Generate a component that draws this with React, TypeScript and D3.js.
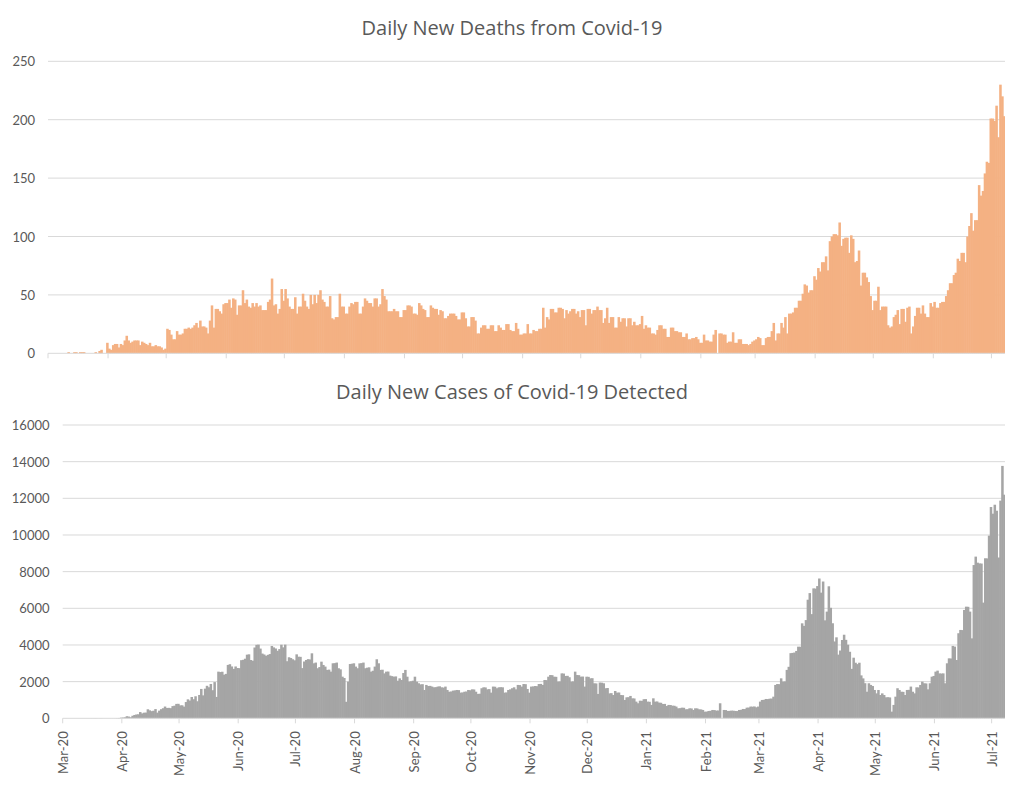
import React from "react";
import * as d3 from "d3";

// Day 0 of both series
const START_DATE = new Date(2020, 2, 7);

// Daily new deaths (one value per day)
const deathsPerDay: number[] = [
  0, 0, 0, 0, 0, 0, 0, 0, 0, 0,
  1, 0, 0, 1, 1, 0, 1, 1, 1, 0,
  0, 0, 0, 0, 1, 0, 2, 3, 0, 0,
  9, 4, 3, 7, 8, 8, 5, 8, 7, 11,
  15, 11, 9, 10, 11, 11, 11, 7, 10, 9,
  8, 7, 9, 6, 6, 7, 6, 6, 5, 3,
  4, 21, 20, 16, 12, 12, 19, 16, 16, 17,
  21, 21, 22, 21, 22, 24, 26, 22, 28, 23,
  23, 22, 17, 28, 41, 22, 38, 38, 36, 34,
  42, 43, 43, 46, 39, 47, 46, 33, 41, 41,
  54, 43, 46, 40, 39, 43, 40, 43, 40, 41,
  37, 37, 37, 44, 46, 64, 41, 42, 34, 38,
  55, 45, 55, 47, 40, 38, 38, 48, 34, 40,
  40, 51, 45, 40, 38, 50, 42, 50, 43, 50,
  54, 46, 44, 40, 40, 49, 30, 29, 31, 31,
  51, 40, 40, 34, 34, 40, 43, 42, 44, 44,
  34, 34, 40, 47, 45, 43, 43, 40, 47, 47,
  40, 42, 55, 49, 46, 36, 36, 36, 38, 36,
  36, 31, 31, 37, 37, 41, 41, 40, 34, 34,
  33, 43, 41, 38, 37, 31, 31, 41, 39, 38,
  38, 33, 37, 36, 30, 30, 32, 34, 34, 34,
  32, 29, 29, 35, 35, 30, 23, 23, 31, 31,
  28, 17, 17, 22, 24, 24, 21, 21, 24, 24,
  19, 19, 24, 22, 20, 20, 25, 25, 20, 19,
  19, 26, 21, 16, 16, 17, 17, 25, 17, 17,
  20, 19, 19, 21, 21, 39, 22, 31, 29, 38,
  38, 35, 35, 39, 39, 38, 30, 37, 34, 36,
  38, 38, 34, 36, 31, 37, 37, 24, 38, 38,
  34, 37, 37, 40, 37, 37, 26, 30, 39, 26,
  31, 31, 22, 22, 31, 27, 30, 30, 23, 30,
  30, 24, 27, 24, 24, 25, 32, 21, 24, 22,
  22, 17, 17, 16, 20, 24, 24, 21, 21, 14,
  14, 22, 22, 19, 19, 18, 18, 14, 14, 17,
  12, 12, 13, 13, 14, 12, 9, 9, 16, 11,
  11, 10, 10, 16, 20, 0, 17, 17, 16, 16,
  9, 10, 10, 18, 9, 9, 12, 12, 8, 8,
  8, 7, 8, 10, 11, 12, 14, 13, 7, 7,
  13, 14, 14, 19, 26, 11, 17, 17, 26, 22,
  31, 17, 34, 34, 35, 39, 39, 45, 45, 51,
  59, 58, 52, 54, 54, 66, 63, 73, 70, 78,
  78, 83, 71, 96, 100, 102, 102, 101, 112, 92,
  98, 99, 99, 86, 101, 98, 78, 79, 88, 58,
  69, 69, 65, 61, 49, 37, 45, 45, 57, 37,
  40, 40, 40, 24, 22, 23, 31, 33, 37, 25,
  38, 38, 27, 39, 40, 17, 23, 32, 39, 39,
  34, 41, 34, 31, 31, 43, 40, 44, 39, 39,
  43, 44, 44, 49, 54, 60, 60, 67, 69, 81,
  79, 86, 86, 78, 100, 109, 120, 105, 114, 114,
  144, 135, 139, 154, 164, 163, 201, 201, 199, 212,
  185, 230, 220, 203,
];

// Daily new cases (one value per day)
const casesPerDay: number[] = [
  0, 3, 0, 0, 0, 0, 0, 2, 0, 3,
  2, 4, 3, 3, 4, 3, 6, 6, 0, 5,
  4, 0, 0, 1, 2, 2, 2, 5, 9, 18,
  35, 41, 54, 112, 94, 58, 139, 182, 209, 219,
  341, 266, 306, 312, 492, 434, 390, 414, 503, 309,
  418, 497, 549, 641, 564, 571, 552, 665, 688, 786,
  790, 706, 709, 636, 887, 1034, 969, 1162, 1041, 1202,
  930, 1273, 1602, 1251, 1617, 1773, 1694, 1873, 1532, 1975,
  1166, 2545, 2523, 2540, 2381, 2423, 2911, 2950, 2828, 2695,
  2828, 2743, 2735, 3171, 3190, 3250, 3471, 3490, 3180, 3141,
  3862, 4008, 4019, 3803, 3531, 3480, 3412, 3462, 3504, 3946,
  3868, 3809, 3682, 3775, 4014, 3870, 4019, 3114, 3330, 3288,
  3220, 3163, 3489, 3360, 3353, 2738, 3099, 3180, 3226, 3210,
  3545, 3000, 3040, 2730, 2795, 3090, 2910, 2820, 2640, 2655,
  2545, 3000, 3009, 3040, 2730, 2670, 2272, 2200, 900, 2000,
  2960, 2977, 3000, 2820, 2730, 2996, 3010, 3040, 2730, 2760,
  2780, 2545, 2595, 2820, 3220, 3000, 2640, 2650, 2450, 2545,
  2550, 2330, 2300, 2270, 2285, 2050, 2180, 2090, 2470, 2640,
  2270, 2000, 2020, 2050, 2270, 2000, 1910, 1850, 1862, 1545,
  1820, 1760, 1770, 1730, 1690, 1700, 1730, 1745, 1690, 1676,
  1730, 1545, 1450, 1462, 1510, 1522, 1545, 1538, 1400, 1412,
  1450, 1462, 1545, 1530, 1580, 1572, 1450, 1330, 1341, 1640,
  1690, 1684, 1580, 1592, 1400, 1730, 1722, 1640, 1690, 1698,
  1690, 1400, 1412, 1545, 1580, 1640, 1690, 1580, 1820, 1812,
  1730, 1870, 1862, 1600, 1400, 1730, 1738, 1760, 1752, 1870,
  1877, 1820, 2090, 2082, 2270, 2360, 2352, 2270, 2262, 2000,
  2010, 2450, 2441, 2310, 2318, 2240, 2000, 2012, 2545, 2360,
  2352, 2270, 2278, 1730, 2270, 2262, 2180, 2188, 1910, 1902,
  1330, 1950, 1942, 1910, 1640, 1652, 1360, 1372, 1270, 1490,
  1400, 1408, 1270, 1262, 1000, 1145, 1152, 1220, 1090, 1082,
  910, 820, 960, 952, 1040, 1048, 910, 902, 730, 1090,
  910, 918, 855, 848, 780, 786, 670, 730, 724, 690,
  684, 640, 545, 552, 580, 574, 490, 498, 545, 538,
  455, 545, 538, 490, 484, 455, 360, 366, 400, 408,
  455, 448, 420, 426, 820, 0, 455, 448, 400, 406,
  420, 414, 400, 394, 455, 462, 510, 504, 580, 586,
  640, 634, 646, 600, 640, 910, 1000, 1008, 1055, 1048,
  1070, 1078, 1180, 1820, 1870, 1862, 2180, 2000, 2010, 2640,
  2809, 3554, 3567, 3587, 3674, 3908, 3902, 5181, 5042, 5358,
  6469, 6830, 5683, 7087, 7075, 7213, 7626, 6854, 7462, 5343,
  5819, 7201, 6028, 5185, 4192, 4417, 3473, 3698, 4271, 4559,
  4280, 4014, 3629, 2697, 3306, 3031, 2955, 3031, 2341, 2177,
  1914, 1450, 1910, 1820, 1760, 1545, 1360, 1545, 1270, 1360,
  1270, 1145, 1152, 1138, 363, 730, 1180, 1640, 1545, 1450,
  1442, 1270, 1545, 1552, 1730, 1450, 1360, 1690, 1684, 1820,
  2000, 1910, 1902, 1580, 1910, 2270, 2310, 2545, 2600, 2450,
  2442, 2450, 1910, 3000, 3270, 3262, 3950, 3910, 3180, 4640,
  4820, 4812, 5910, 6090, 6082, 5820, 4360, 8360, 8820, 8490,
  8450, 8442, 6310, 8730, 8722, 9964, 11525, 11162, 11651, 11324,
  8772, 11874, 13768, 12198,
];

const deathTickValues = [0, 50, 100, 150, 200, 250];
const caseTickValues = [0, 2000, 4000, 6000, 8000, 10000, 12000, 14000, 16000];
const MONTHS_SHOWN = 17;
const deathsTitle = "Daily New Deaths from Covid-19";
const casesTitle = "Daily New Cases of Covid-19 Detected";

const FONT = "Lato, 'Open Sans', sans-serif";
const TITLE_FONT = "'Open Sans', Lato, sans-serif";
const TEXT = "#595959";
const GRID = "#d9d9d9";
const ORANGE = "#F4B183";
const GREY = "#A5A5A5";

type PanelProps = {
  data: number[];
  x: d3.ScaleTime<number, number>;
  y: d3.ScaleLinear<number, number>;
  ticks: number[];
  color: string;
  labelRight: number;
  monthTicks: Date[];
  showDates: boolean;
};

function Panel({ data, x, y, ticks, color, labelRight, monthTicks, showDates }: PanelProps) {
  const [x0, x1] = x.range();
  const y0 = y(0);
  const fmt = d3.timeFormat("%b-%y");
  return (
    <g>
      {ticks.map((t) => (
        <g key={t}>
          {t > 0 && <line x1={x0} x2={x1} y1={y(t)} y2={y(t)} stroke={GRID} strokeWidth={1} />}
          <text
            x={labelRight}
            y={y(t)}
            textAnchor="end"
            dominantBaseline="central"
            fontFamily={FONT}
            fontSize={13}
            fill={TEXT}
          >
            {t}
          </text>
        </g>
      ))}
      {data.map((v, i) => {
        const d = d3.timeDay.offset(START_DATE, i);
        const dn = d3.timeDay.offset(START_DATE, i + 1);
        const bx = x(d);
        const bw = x(dn) - bx;
        const last = i === data.length - 1;
        return (
          <rect
            key={i}
            x={bx}
            y={y(v)}
            width={last ? bw : bw + 0.6}
            height={y0 - y(v)}
            fill={color}
          />
        );
      })}
      <line x1={x0} x2={x1} y1={y0} y2={y0} stroke={GRID} strokeWidth={1} />
      {monthTicks.map((m, k) => (
        <g key={k}>
          <line x1={x(m)} x2={x(m)} y1={y0} y2={y0 + 5} stroke={GRID} strokeWidth={1} />
          {showDates && (
            <text
              transform={`translate(${x(m)},${y0 + 13}) rotate(-90)`}
              textAnchor="end"
              dominantBaseline="central"
              fontFamily={FONT}
              fontSize={13}
              fill={TEXT}
            >
              {fmt(m)}
            </text>
          )}
        </g>
      ))}
    </g>
  );
}

export default function App() {
  const N = deathsPerDay.length;
  const endDate = d3.timeDay.offset(START_DATE, N);
  const monthTicks = d3.range(MONTHS_SHOWN).map((k) => d3.timeMonth.offset(START_DATE, k));

  const xTop = d3.scaleTime().domain([START_DATE, endDate]).range([48, 1005]);
  const yTop = d3.scaleLinear().domain([0, 250]).range([353.3, 61.3]);
  const xBot = d3.scaleTime().domain([START_DATE, endDate]).range([62.7, 1005]);
  const yBot = d3.scaleLinear().domain([0, 16000]).range([718.3, 425]);

  return (
    <svg
      width={1024}
      height={787}
      style={{ position: "absolute", left: 0, top: 0, background: "#fff" }}
    >
      <rect x={0} y={0} width={1024} height={787} fill="#fff" />
      <text x={512} y={35} textAnchor="middle" fontFamily={TITLE_FONT} fontSize={20} fill={TEXT}>
        {deathsTitle}
      </text>
      <Panel
        data={deathsPerDay}
        x={xTop}
        y={yTop}
        ticks={deathTickValues}
        color={ORANGE}
        labelRight={35}
        monthTicks={monthTicks}
        showDates={false}
      />
      <text x={512} y={399} textAnchor="middle" fontFamily={TITLE_FONT} fontSize={20} fill={TEXT}>
        {casesTitle}
      </text>
      <Panel
        data={casesPerDay}
        x={xBot}
        y={yBot}
        ticks={caseTickValues}
        color={GREY}
        labelRight={49.5}
        monthTicks={monthTicks}
        showDates={true}
      />
    </svg>
  );
}
